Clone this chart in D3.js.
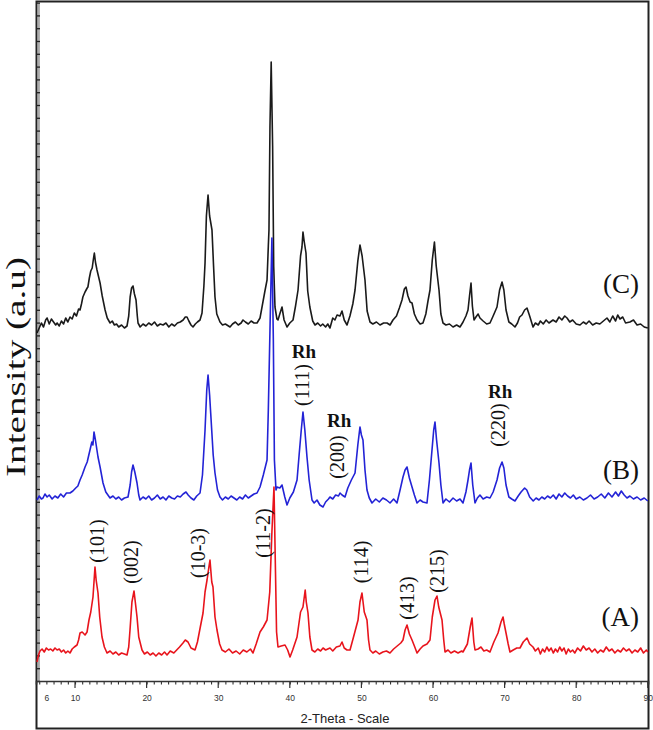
<!DOCTYPE html>
<html>
<head>
<meta charset="utf-8">
<script src="https://cdn.jsdelivr.net/npm/d3@7"></script>
<style>
  body { margin: 0; background: #fff; }
  svg { display: block; }
</style>
</head>
<body>
<div id="chart-area"></div>
<script>
// 2-theta axis ticks
var tickLabels = [6, 10, 20, 30, 40, 50, 60, 70, 80, 90];

// sample names and vertical offset of each pattern (a.u.)
var sampleNames = ["(A)", "(B)", "(C)"];
var sampleOffsets = [29, 181, 355];
var sampleColors = ["#e8141c", "#2323d6", "#1a1a1a"];

// pattern A : [2theta, intensity]
var patternA = [
    [4.69, -10], [4.9, -3], [5.11, 1], [5.4, 3], [5.7, 0], [6.0, 4], [6.3, 2], [6.6, 3], [6.9, 1], [7.2, 4],
    [7.5, 2], [7.8, 3], [8.1, 0], [8.4, 2], [8.7, -1], [9.0, 1], [9.3, -1], [9.6, 3], [9.9, 5], [10.28, 7],
    [10.5, 12], [10.7, 19], [11.0, 20], [11.4, 17], [11.68, 20], [11.95, 32], [12.2, 40], [12.51, 55], [12.65, 70], [12.79, 85],
    [12.95, 72], [13.21, 59], [13.45, 35], [13.77, 15], [14.1, 5], [14.47, -1], [14.9, 1], [15.3, -2], [15.7, 0], [16.1, -3],
    [16.5, -1], [16.9, -2], [17.26, -3], [17.5, 5], [17.68, 22], [17.95, 50], [18.24, 61], [18.5, 45], [18.66, 35], [18.9, 15],
    [19.36, 2], [19.7, -2], [20.1, 0], [20.5, -3], [20.9, -1], [21.3, -4], [21.7, -1], [22.1, -3], [22.5, 0], [22.85, -3],
    [23.3, 1], [23.8, -1], [24.2, 2], [24.6, 5], [25.08, 9], [25.4, 12], [25.78, 10], [26.2, 4], [26.76, 2], [27.1, 10],
    [27.5, 25], [27.88, 39], [28.16, 60], [28.44, 72], [28.7, 85], [28.85, 92], [29.1, 70], [29.27, 65], [29.55, 35], [29.83, 22],
    [30.2, 8], [30.53, 2], [31.0, 0], [31.5, 3], [32.0, -1], [32.5, 1], [33.0, -2], [33.5, 2], [34.0, 0], [34.5, 3],
    [34.86, -1], [35.3, 8], [35.84, 20], [36.3, 25], [36.82, 32], [37.2, 60], [37.5, 120], [37.79, 165], [38.0, 80], [38.15, 20],
    [38.35, 5], [38.8, 6], [39.33, 7], [39.7, 2], [40.03, -5], [40.4, 2], [41.01, 15], [41.5, 40], [41.84, 45], [42.15, 62],
    [42.3, 50], [42.54, 39], [42.8, 15], [43.1, 2], [43.5, 0], [43.9, 3], [44.3, 1], [44.64, 4], [45.0, 2], [45.61, 4],
    [46.0, 1], [46.5, 5], [47.0, 6], [47.29, 10], [47.6, 4], [47.99, 2], [48.41, 2], [48.9, 15], [49.53, 32], [49.8, 50],
    [50.08, 59], [50.4, 40], [50.78, 32], [51.0, 12], [51.2, 2], [51.6, -1], [52.0, 1], [52.5, -2], [53.0, 0], [53.5, 1],
    [53.99, -1], [54.5, 3], [55.0, 6], [55.5, 9], [55.81, 12], [56.1, 22], [56.37, 27], [56.7, 18], [57.07, 12], [57.4, 6],
    [57.77, -1], [58.2, 3], [58.6, 6], [59.16, 8], [59.58, 12], [59.9, 35], [60.28, 52], [60.56, 56], [60.8, 45], [61.26, 32],
    [61.5, 12], [61.68, 0], [62.1, 2], [62.5, -1], [63.0, 1], [63.5, -1], [64.0, 1], [64.19, 0], [64.8, 8], [65.2, 25],
    [65.45, 34], [65.7, 10], [65.87, 2], [66.3, 3], [66.7, 5], [67.1, 1], [67.5, 2], [67.96, 0], [68.5, 10], [69.08, 19],
    [69.5, 30], [69.78, 35], [69.95, 28], [70.2, 19], [70.5, 8], [70.75, 0], [71.2, 2], [71.7, 4], [72.15, 4], [72.6, 10],
    [73.13, 14], [73.5, 8], [73.97, 5], [74.3, 1], [74.7, 4], [75.0, -2], [75.3, 3], [75.6, 0], [75.9, 5], [76.2, 1],
    [76.5, 4], [76.8, -1], [77.1, 3], [77.4, 0], [77.7, 5], [78.0, 1], [78.3, 4], [78.6, -2], [78.9, 3], [79.2, 0],
    [79.5, 2], [79.8, -1], [80.2, 4], [80.6, 1], [81.0, 6], [81.4, 2], [81.8, 4], [82.2, 0], [82.6, 3], [83.0, -1],
    [83.4, 2], [83.8, 0], [84.2, 5], [84.6, 1], [85.0, 3], [85.4, -1], [85.8, 2], [86.2, 0], [86.6, 4], [87.0, 1],
    [87.4, 3], [87.8, -1], [88.2, 2], [88.6, 0], [89.0, 4], [89.4, -1], [89.8, 2], [90.0, 0]
];

// pattern B
var patternB = [
    [4.69, 0], [5.0, 4], [5.3, 1], [5.53, 2], [5.8, 6], [6.1, 3], [6.4, 5], [6.8, 1], [7.2, 4], [7.6, 2],
    [8.0, 6], [8.4, 3], [8.8, 7], [9.3, 7], [9.7, 9], [10.1, 12], [10.4, 14], [10.7, 20], [11.0, 25], [11.4, 33],
    [11.7, 38], [12.09, 50], [12.35, 58], [12.5, 55], [12.65, 68], [12.85, 60], [13.21, 43], [13.5, 33], [13.91, 17], [14.3, 8],
    [14.89, 2], [15.3, 4], [15.7, 1], [16.1, 3], [16.5, 0], [16.9, 2], [17.4, 3], [17.7, 15], [17.9, 28], [18.1, 35],
    [18.35, 28], [18.66, 17], [18.9, 5], [19.08, 0], [19.5, 3], [19.9, 1], [20.3, 4], [20.7, 0], [21.1, 2], [21.5, 5],
    [21.9, 1], [22.3, 3], [22.7, 0], [23.1, 4], [23.5, 2], [23.9, 1], [24.3, 4], [24.7, 3], [25.1, 6], [25.5, 8],
    [25.8, 5], [26.2, 2], [26.6, 0], [27.0, 4], [27.46, 7], [27.8, 25], [28.16, 70], [28.4, 110], [28.58, 125], [28.8, 105],
    [28.95, 87], [29.3, 45], [29.55, 27], [29.9, 10], [30.25, 3], [30.6, 0], [31.0, 3], [31.4, 1], [31.8, 4], [32.2, 2],
    [32.6, 0], [33.0, 3], [33.4, 1], [33.8, 5], [34.2, 2], [34.6, 4], [35.0, 6], [35.42, 7], [35.84, 13], [36.3, 25],
    [36.82, 40], [37.0, 90], [37.23, 170], [37.5, 262], [37.7, 160], [37.85, 40], [38.07, 10], [38.21, 13], [38.6, 12], [38.91, 15],
    [39.3, 3], [39.61, -5], [40.0, 2], [40.5, 8], [41.01, 20], [41.3, 45], [41.6, 70], [41.84, 88], [42.1, 70], [42.4, 43],
    [42.7, 20], [43.1, 0], [43.4, -3], [43.8, 0], [44.2, -5], [44.64, -7], [45.0, -2], [45.4, 1], [45.61, 3], [46.0, 1],
    [46.4, 5], [46.8, 4], [47.01, 7], [47.3, 5], [47.71, 3], [48.1, 12], [48.6, 20], [49.11, 27], [49.5, 55], [49.8, 73],
    [50.0, 65], [50.22, 60], [50.5, 30], [50.78, 10], [51.1, 2], [51.48, -3], [52.0, 1], [52.5, -2], [53.0, 2], [53.5, 0],
    [54.0, -3], [54.5, 1], [54.97, -3], [55.4, 10], [55.81, 23], [56.1, 30], [56.37, 33], [56.7, 22], [57.07, 13], [57.4, 5],
    [57.77, -3], [58.2, 0], [58.6, -2], [59.16, -3], [59.5, 20], [59.86, 50], [60.1, 70], [60.28, 78], [60.5, 60], [60.84, 37],
    [61.1, 15], [61.4, -3], [61.8, 1], [62.3, -2], [62.8, 2], [63.3, -1], [63.77, 1], [64.19, -3], [64.6, 8], [64.89, 20],
    [65.1, 30], [65.31, 37], [65.55, 15], [65.87, -3], [66.2, 2], [66.56, 5], [67.0, 1], [67.5, 3], [67.96, 2], [68.4, 8],
    [68.94, 20], [69.3, 32], [69.64, 38], [69.9, 32], [70.2, 15], [70.6, 3], [71.0, 1], [71.45, -1], [71.9, 4], [72.3, 8],
    [72.8, 12], [73.1, 10], [73.5, 3], [74.0, -1], [74.4, 2], [74.8, 0], [75.2, 3], [75.6, 1], [76.0, 4], [76.4, 2],
    [76.8, 5], [77.2, 1], [77.6, 6], [78.0, 3], [78.4, 7], [78.8, 4], [79.2, 2], [79.6, 5], [80.0, 1], [80.5, 3],
    [81.0, 0], [81.5, 2], [82.0, 5], [82.5, 1], [83.0, 3], [83.5, 6], [84.0, 2], [84.5, 7], [85.0, 3], [85.5, 8],
    [85.9, 4], [86.3, 9], [86.7, 5], [87.1, 2], [87.5, 4], [88.0, 1], [88.5, 3], [89.0, 0], [89.5, 2], [90.0, -1]
];

// pattern C
var patternC = [
    [4.69, -7], [5.0, -2], [5.3, 3], [5.6, -1], [5.9, 6], [6.1, 8], [6.4, 2], [6.7, 7], [7.0, 4], [7.3, 1],
    [7.5, 3], [7.8, 0], [8.1, 5], [8.4, 2], [8.7, 8], [9.0, 4], [9.3, 9], [9.6, 7], [9.9, 13], [10.2, 10],
    [10.5, 17], [10.7, 16], [10.9, 22], [11.1, 29], [11.4, 34], [11.7, 38], [11.8, 39], [12.0, 48], [12.2, 55], [12.4, 58],
    [12.55, 66], [12.7, 73], [12.85, 64], [13.07, 56], [13.3, 49], [13.5, 43], [13.8, 30], [14.2, 16], [14.5, 8], [14.9, 3],
    [15.2, 5], [15.5, 1], [15.8, 2], [16.1, -1], [16.5, 1], [16.9, -2], [17.26, 0], [17.5, 10], [17.7, 29], [17.9, 38],
    [18.1, 40], [18.3, 32], [18.52, 26], [18.7, 10], [18.8, 3], [19.1, -1], [19.5, 2], [19.9, 0], [20.3, 3], [20.7, 1],
    [21.1, 4], [21.5, 0], [21.9, 2], [22.3, 1], [22.7, 3], [23.1, -1], [23.5, 2], [23.9, 0], [24.3, 3], [24.7, 4],
    [25.1, 6], [25.4, 9], [25.64, 9], [25.9, 5], [26.2, 1], [26.48, -1], [26.8, 2], [27.1, 4], [27.46, 6], [27.74, 13],
    [28.0, 40], [28.16, 63], [28.35, 110], [28.58, 131], [28.8, 110], [29.13, 96], [29.35, 60], [29.55, 29], [29.8, 12], [30.25, 4],
    [30.6, 1], [31.0, 2], [31.65, -1], [32.0, 2], [32.4, 4], [32.8, 1], [33.2, 3], [33.46, 6], [33.8, 4], [34.2, 2],
    [34.6, 5], [35.0, 3], [35.42, 3], [35.84, 8], [36.12, 19], [36.5, 34], [36.82, 46], [37.0, 80], [37.09, 96], [37.23, 200],
    [37.4, 264], [37.6, 180], [37.75, 60], [37.93, 19], [38.2, 7], [38.35, 6], [38.6, 12], [38.91, 19], [39.2, 6], [39.61, -1],
    [40.0, 3], [40.45, 6], [40.8, 20], [41.15, 36], [41.5, 70], [41.7, 79], [41.84, 94], [42.0, 85], [42.26, 73], [42.5, 35],
    [42.8, 19], [43.2, 5], [43.52, 1], [43.9, 3], [44.3, 0], [44.6, 2], [45.0, -1], [45.3, 2], [45.61, -2], [46.0, 8],
    [46.3, 6], [46.6, 11], [47.0, 10], [47.29, 15], [47.6, 6], [47.99, 1], [48.4, 10], [48.8, 22], [49.11, 36], [49.5, 65],
    [49.8, 81], [50.1, 70], [50.5, 46], [50.8, 15], [51.2, 4], [51.6, 2], [52.1, 4], [52.6, 1], [53.1, 3], [53.58, 3],
    [54.0, 1], [54.41, 6], [54.9, 10], [55.3, 18], [55.67, 26], [56.0, 37], [56.23, 39], [56.5, 30], [56.8, 24], [57.07, 23],
    [57.4, 12], [57.77, 6], [58.2, 2], [58.6, 3], [59.0, 12], [59.3, 25], [59.58, 36], [59.9, 66], [60.2, 84], [60.45, 60],
    [60.84, 36], [61.1, 12], [61.4, 3], [61.8, 1], [62.3, 2], [62.8, -1], [63.3, 1], [63.77, -1], [64.2, 4], [64.6, 10],
    [64.89, 16], [65.1, 30], [65.31, 43], [65.5, 20], [65.73, 6], [66.0, 9], [66.3, 12], [66.56, 8], [67.0, 5], [67.5, 2],
    [67.96, 3], [68.4, 10], [68.94, 19], [69.3, 36], [69.64, 44], [69.9, 36], [70.2, 16], [70.6, 4], [71.0, 2], [71.45, -1],
    [71.8, 3], [72.1, 9], [72.43, 11], [72.8, 16], [73.13, 18], [73.5, 10], [73.97, -1], [74.3, 3], [74.7, 1], [75.0, 5],
    [75.4, 2], [75.8, 6], [76.2, 3], [76.76, 6], [77.2, 4], [77.6, 9], [78.0, 6], [78.4, 10], [78.72, 8], [79.1, 4],
    [79.5, 6], [80.0, 2], [80.53, 1], [81.0, 4], [81.4, 2], [81.8, 5], [82.3, 1], [82.8, 3], [83.3, 2], [83.8, 5],
    [84.3, 8], [84.7, 4], [85.1, 10], [85.5, 5], [85.8, 11], [86.12, 7], [86.5, 9], [86.9, 3], [87.51, 4], [88.0, 6],
    [88.5, 1], [89.0, 2], [89.5, -1], [90.0, -2]
];

// reflection labels
var hklA = ["(101)", "(002)", "(10-3)", "(11-2)", "(114)", "(413)", "(215)"];
var hklB = ["(111)", "(200)", "(220)"];

var width = 653, height = 730;
var margin = { left: 36, right: 5, top: 2, bottom: 49 };

var svg = d3.select("#chart-area")
    .append("svg")
    .attr("width", width)
    .attr("height", height);

var x = d3.scaleLinear()
    .domain([4.55, 90.03])
    .range([margin.left, width - margin.right]);

var y = d3.scaleLinear()
    .domain([0, 679])
    .range([height - margin.bottom, margin.top]);

// frame
svg.append("rect")
    .attr("x", 36.5).attr("y", 1.5)
    .attr("width", 612).attr("height", 727)
    .attr("fill", "none")
    .attr("stroke", "#222")
    .attr("stroke-width", 2);

// left intensity axis (ticks only)
svg.append("line")
    .attr("x1", 38.8).attr("x2", 38.8)
    .attr("y1", 2).attr("y2", y(0))
    .attr("stroke", "#aaa")
    .attr("stroke-width", 2.2);

var yAxis = d3.axisRight(y)
    .tickValues(d3.range(0, 679, 12.8))
    .tickSize(3)
    .tickFormat("");
svg.append("g")
    .attr("transform", "translate(37,0)")
    .call(yAxis)
    .call(function (g) { g.select(".domain").remove(); })
    .selectAll("line").attr("stroke", "#222").attr("stroke-width", 1.3);

// bottom 2-theta axis
var xAxisMinor = d3.axisBottom(x)
    .tickValues(d3.range(5, 91, 1))
    .tickSize(3.5)
    .tickFormat("");
svg.append("g")
    .attr("transform", "translate(0," + y(0) + ")")
    .call(xAxisMinor)
    .call(function (g) {
        g.select(".domain").attr("stroke", "#333").attr("stroke-width", 1.6);
        g.selectAll("line").attr("stroke", "#333").attr("stroke-width", 1.1);
    });

var xAxisMajor = d3.axisBottom(x)
    .tickValues(tickLabels)
    .tickSize(0)
    .tickPadding(14)
    .tickFormat(d3.format("d"));
svg.append("g")
    .attr("transform", "translate(0," + y(0) + ")")
    .call(xAxisMajor)
    .call(function (g) {
        g.select(".domain").remove();
        g.selectAll("text")
            .attr("font-family", "Liberation Sans, Arial, sans-serif")
            .attr("font-size", 8.5)
            .attr("fill", "#333");
    });

svg.append("g")
    .selectAll("line")
    .data(d3.range(10, 91, 10))
    .enter()
    .append("line")
    .attr("x1", function (d) { return x(d); })
    .attr("x2", function (d) { return x(d); })
    .attr("y1", y(0))
    .attr("y2", y(0) + 7)
    .attr("stroke", "#333")
    .attr("stroke-width", 1.2);

svg.append("text")
    .attr("x", 345)
    .attr("y", 723)
    .attr("text-anchor", "middle")
    .attr("font-family", "Liberation Sans, Arial, sans-serif")
    .attr("font-size", 13)
    .attr("fill", "#222")
    .text("2-Theta - Scale");

// y label
svg.append("text")
    .attr("transform", "translate(25,367) rotate(-90)")
    .attr("text-anchor", "middle")
    .attr("font-family", "Liberation Serif, Times New Roman, serif")
    .attr("font-size", 28)
    .attr("textLength", 220)
    .attr("lengthAdjust", "spacingAndGlyphs")
    .attr("fill", "#111")
    .text("Intensity (a.u)");

// patterns, drawn C, B, A so red ends on top
var patterns = [patternA, patternB, patternC];
[2, 1, 0].forEach(function (i) {
    var off = sampleOffsets[i];
    var line = d3.line()
        .x(function (d) { return x(d[0]); })
        .y(function (d) { return y(off + d[1]); });
    svg.append("path")
        .datum(patterns[i])
        .attr("d", line)
        .attr("fill", "none")
        .attr("stroke", sampleColors[i])
        .attr("stroke-width", 1.6)
        .attr("stroke-linejoin", "round");
});

// sample labels
var sampleLabelY = [626, 479, 293];
sampleNames.forEach(function (name, i) {
    svg.append("text")
        .attr("x", 639)
        .attr("y", sampleLabelY[i])
        .attr("text-anchor", "end")
        .attr("font-family", "Liberation Serif, Times New Roman, serif")
        .attr("font-size", 27)
        .attr("fill", "#111")
        .text(name);
});

// hkl labels (rotated)
var hklAPos = [[13.07, 541], [17.8, 562], [27.2, 553], [36.3, 533], [50.0, 562], [56.4, 598], [60.6, 571]];
var hklBPos = [[41.7, 385], [46.6, 457], [69.1, 425]];
var rhY = [358, 427, 398];

function addHkl(label, pos) {
    svg.append("text")
        .attr("transform", "translate(" + (x(pos[0]) + 7) + "," + pos[1] + ") rotate(-90)")
        .attr("text-anchor", "middle")
        .attr("font-family", "Liberation Serif, Times New Roman, serif")
        .attr("font-size", 20)
        .attr("fill", "#111")
        .text(label);
}
hklA.forEach(function (l, i) { addHkl(l, hklAPos[i]); });
hklB.forEach(function (l, i) {
    addHkl(l, hklBPos[i]);
    svg.append("text")
        .attr("x", x(hklBPos[i][0]) + 2)
        .attr("y", rhY[i])
        .attr("text-anchor", "middle")
        .attr("font-family", "Liberation Serif, Times New Roman, serif")
        .attr("font-weight", "bold")
        .attr("font-size", 19)
        .attr("fill", "#111")
        .text("Rh");
});
</script>
</body>
</html>
